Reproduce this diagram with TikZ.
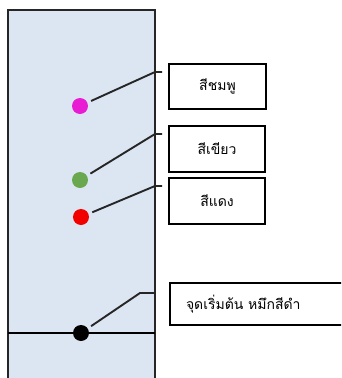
\documentclass[tikz,border=0pt]{standalone}
\usepackage{fontspec}
\newfontfamily\thaifont[Script=Thai]{Loma}
\definecolor{panel}{HTML}{DCE6F2}
\definecolor{pinkdot}{HTML}{E81CD2}
\definecolor{greendot}{HTML}{6AA84F}
\definecolor{reddot}{HTML}{F20000}
\definecolor{baseline}{HTML}{2E3B48}
\begin{document}
\begin{tikzpicture}[x=1pt,y=-1pt,
  dot/.style={circle,inner sep=0pt,minimum size=16pt,draw=none},
  labelbox/.style={draw=black,line width=2pt,fill=white,inner sep=0pt,font=\thaifont\fontsize{14}{16}\selectfont},
  leader/.style={draw=black!85,line width=1.9pt,shorten <=4pt}]
\clip (0,0) rectangle (341,378);
\fill[white] (0,0) rectangle (341,378);
% panel
\fill[panel] (8,10) rectangle (155,390);
\draw[line width=1.8pt,black!85] (8,390) -- (8,10) -- (155,10) -- (155,390);
\draw[line width=1.4pt,baseline] (8,333) -- (155,333);
% dots
\node[dot,fill=pinkdot] (pdot) at (80,106) {};
\node[dot,fill=greendot] (gdot) at (80,180) {};
\node[dot,fill=reddot] (rdot) at (81,217) {};
\node[dot,fill=black] (kdot) at (81,333) {};
% boxes
\node[labelbox,minimum width=97pt,minimum height=45pt] (pbox) at (217.5,86.5) {สีชมพู};
\node[labelbox,minimum width=96pt,minimum height=46pt] (gbox) at (217,149) {สีเขียว};
\node[labelbox,minimum width=96pt,minimum height=46pt] (rbox) at (217,201) {สีแดง};
\node[labelbox,minimum height=42pt,text width=150pt,align=left,inner xsep=16pt,anchor=west] (kbox) at (169,304) {จุดเริ่มต้น หมึกสีดำ};
% leaders
\coordinate (p1) at (155,72); \coordinate (p2) at (162,72);
\coordinate (g1) at (155,134); \coordinate (g2) at (162,134);
\coordinate (r1) at (155,186); \coordinate (r2) at (162,186);
\coordinate (k1) at (140,293); \coordinate (k2) at (155,293);
\draw[leader] (pdot) -- (p1) -- (p2);
\draw[leader] (gdot) -- (g1) -- (g2);
\draw[leader] (rdot) -- (r1) -- (r2);
\draw[leader] (kdot) -- (k1) -- (k2);
\end{tikzpicture}
\end{document}
